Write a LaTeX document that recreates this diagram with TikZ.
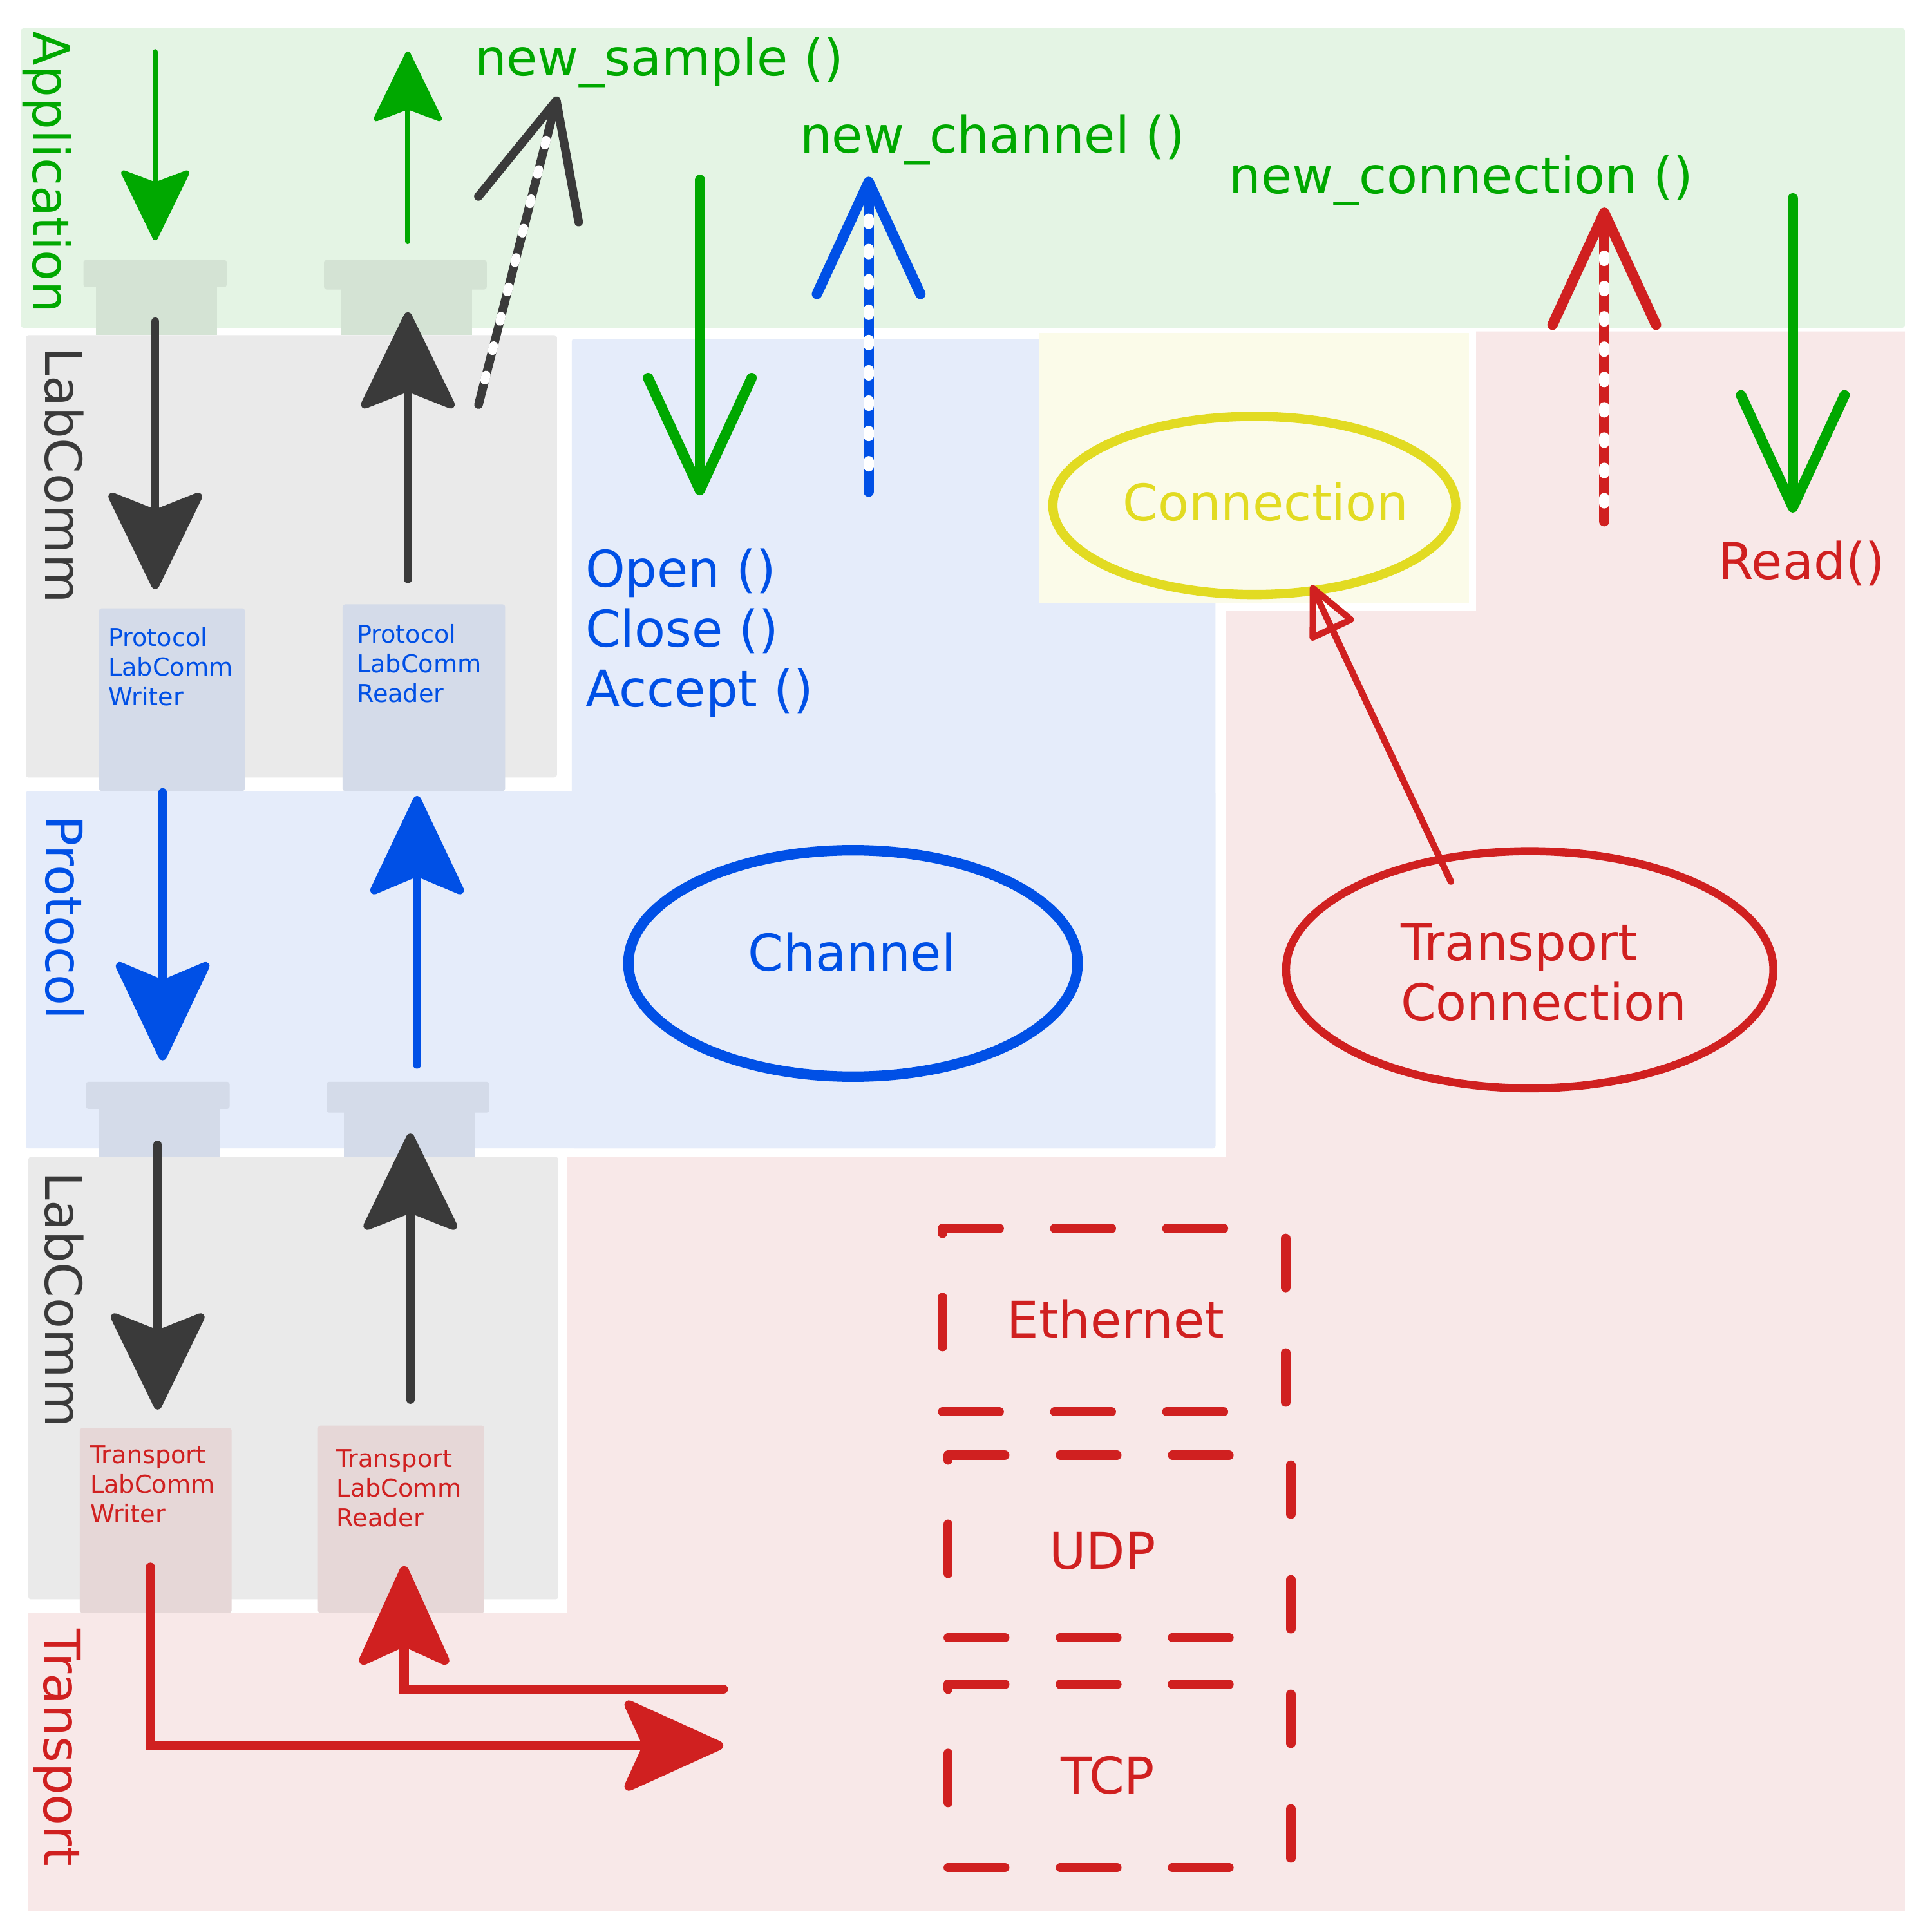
\documentclass[tikz,border=0pt]{standalone}
\usepackage{fontspec}
\setmainfont{DejaVu Sans}
\usetikzlibrary{arrows.meta, shapes.geometric}

\definecolor{appgreen}{HTML}{00A800}
\definecolor{appbg}{HTML}{E4F4E4}
\definecolor{lcgray}{HTML}{3A3A3A}
\definecolor{lcbg}{HTML}{EAEAEA}
\definecolor{protblue}{HTML}{0050E6}
\definecolor{protbg}{HTML}{E5ECFA}
\definecolor{trred}{HTML}{D02020}
\definecolor{trbg}{HTML}{F8E8E8}
\definecolor{connyellow}{HTML}{E2DB22}
\definecolor{connbg}{HTML}{FBFBE9}
\definecolor{stubgreen}{HTML}{D4E3D4}
\definecolor{stubblue}{HTML}{D4DBE9}
\definecolor{stubred}{HTML}{E6D7D7}

\begin{document}
\begin{tikzpicture}[x=1pt, y=-1pt,
    panel/.style={rounded corners=2pt},
    bigtext/.style={font=\fontsize{41}{48.5}\selectfont, inner sep=0pt, anchor=base west, align=left},
    smalltext/.style={font=\fontsize{20}{24}\selectfont, inner sep=0pt, anchor=base west, align=left},
    layerlabel/.style={bigtext, rotate=-90},
    gfill/.style={appgreen, line width=4.3pt, line cap=round, -{Stealth[round, length=61pt, width=59pt, inset=11pt]}},
    dfill/.style={lcgray, line width=6.7pt, line cap=round, -{Stealth[round, length=85pt, width=82pt, inset=16pt]}},
    bfill/.style={protblue, line width=6.7pt, line cap=round, -{Stealth[round, length=87pt, width=82pt, inset=17pt]}},
    rfill/.style={trred, line width=7.6pt, line cap=round, -{Stealth[round, length=89pt, width=80pt, inset=18pt]}},
    vhead/.style={line width=8.4pt, line cap=round, -{Straight Barb[round, length=91pt, width=84pt]}},
    whitedots/.style={white, line width=8.6pt, line cap=round, dash pattern=on 4pt off 20.6pt},
    netline/.style={trred, line width=7.5pt, line cap=round},
    usecase/.style={ellipse, inner sep=0pt, outer sep=0pt}]

    % page
    \fill[white] (0,0) rectangle (1568,1568);
    \useasboundingbox (0,0) rectangle (1568,1568);

    % layers
    \fill[appbg, panel] (17,23) rectangle (1546,266);
    \fill[lcbg, panel] (21,272) rectangle (452,631);
    \fill[protbg, panel] (464,275) rectangle (986.5,932);
    \fill[protbg, panel] (21,642) rectangle (986.5,932);
    \fill[connbg] (843,270) rectangle (1192,489);
    \fill[lcbg, panel] (23,939) rectangle (453,1298);
    \fill[trbg] (1198,269) -- (1546,269) -- (1546,1551) -- (23,1551) -- (23,1309)
        -- (460,1309) -- (460,939) -- (995,939) -- (995,495.5) -- (1198,495.5) -- cycle;

    % sockets and codec boxes
    \fill[stubgreen, panel] (67.7,211) rectangle (184,233);
    \fill[stubgreen] (78,232) rectangle (176,272);
    \fill[stubgreen, panel] (263,211) rectangle (395,235);
    \fill[stubgreen] (277,234) rectangle (383,272);
    \fill[stubblue, panel] (80.4,493.7) rectangle (198.7,642);
    \fill[stubblue, panel] (278,490.5) rectangle (410,642);
    \fill[stubblue, panel] (69.7,878) rectangle (186.4,900);
    \fill[stubblue] (80,899) rectangle (178,939);
    \fill[stubblue, panel] (265,878) rectangle (397,903);
    \fill[stubblue] (279,902) rectangle (385,939);
    \fill[stubred, panel] (64.8,1159) rectangle (188,1309);
    \fill[stubred, panel] (258,1157) rectangle (393,1309);

    % layer names
    \node[layerlabel, appgreen] (lapp) at (26.7,25) {Application};
    \node[layerlabel, lcgray] (llcup) at (36.6,281.7) {LabComm};
    \node[layerlabel, protblue] (lprot) at (37.6,662) {Protocol};
    \node[layerlabel, lcgray] (llclow) at (36.8,950.7) {LabComm};
    \node[layerlabel, trred] (ltrans) at (36,1322) {Transport};

    % codec names (anchored on the last line)
    \node[smalltext, protblue] (pwriter) at (87.7,572.5) {Protocol\\LabComm\\Writer};
    \node[smalltext, protblue] (preader) at (289.4,570) {Protocol\\LabComm\\Reader};
    \node[smalltext, trred] (twriter) at (73,1235.7) {Transport\\LabComm\\Writer};
    \node[smalltext, trred] (treader) at (273,1238.8) {Transport\\LabComm\\Reader};

    % objects
    \node[usecase, draw=connyellow, line width=7.5pt, minimum width=327pt, minimum height=144.6pt] (conn) at (1018,410.2) {};
    \node[usecase, draw=protblue, line width=8.5pt, minimum width=364.6pt, minimum height=183.8pt] (chan) at (692.3,781.9) {};
    \node[usecase, draw=trred, line width=6.5pt, minimum width=395.5pt, minimum height=192.5pt] (tconn) at (1241.5,787) {};
    \node[bigtext, connyellow] (connlbl) at (911,422.6) {Connection};
    \node[bigtext, protblue] (chanlbl) at (607,788) {Channel};
    \node[bigtext, trred] (tconnlbl) at (1136.7,828) {Transport\\Connection};

    % calls
    \node[bigtext, appgreen] (newsample) at (385,61.6) {new\_sample ()};
    \node[bigtext, appgreen] (newchannel) at (649,124) {new\_channel ()};
    \node[bigtext, appgreen] (newconn) at (997.5,157) {new\_connection ()};
    \node[bigtext, trred] (readcall) at (1394.7,470) {Read()};
    \node[bigtext, protblue] (chancalls) at (475,573.5) {Open ()\\Close ()\\Accept ()};

    % end points
    \coordinate (asnd) at (126,42);     \coordinate (asndE) at (126,195);
    \coordinate (arcv) at (331,196);    \coordinate (arcvE) at (331,41.7);
    \coordinate (lsnd) at (126,261);    \coordinate (lsndE) at (126,478);
    \coordinate (lrcv) at (331,470);    \coordinate (lrcvE) at (331,253.4);
    \coordinate (lnew) at (388.4,328.3); \coordinate (lnewE) at (452.4,78.3); \coordinate (lnewD) at (445,107);
    \coordinate (copen) at (568,146);   \coordinate (copenE) at (568,402);
    \coordinate (cnew) at (705,399);    \coordinate (cnewE) at (705,143.4); \coordinate (cnewD) at (705,174);
    \coordinate (tnew) at (1302,423);   \coordinate (tnewE) at (1302,168.4); \coordinate (tnewD) at (1302,198);
    \coordinate (tread) at (1455,161);  \coordinate (treadE) at (1455,416);
    \coordinate (psnd) at (132,643);    \coordinate (psndE) at (132,860.6);
    \coordinate (prcv) at (338.5,864);  \coordinate (prcvE) at (338.5,646);
    \coordinate (xsnd) at (128,929);    \coordinate (xsndE) at (128,1144);
    \coordinate (xrcv) at (333,1136);   \coordinate (xrcvE) at (333,920);
    \coordinate (wout) at (122,1272);   \coordinate (woutE) at (587,1416.7);
    \coordinate (rin) at (587,1371);    \coordinate (rinE) at (328,1271);

    % Application
    \draw[gfill] (asnd) -- (asndE);
    \draw[gfill] (arcv) -- (arcvE);

    % LabComm
    \draw[dfill] (lsnd) -- (lsndE);
    \draw[dfill] (lrcv) -- (lrcvE);
    \draw[lcgray, vhead, line width=7pt] (lnew) -- (lnewE);
    \draw[whitedots, line width=7.2pt, dash phase=4pt] (lnew) -- (lnewD);

    % Channel calls
    \draw[appgreen, vhead] (copen) -- (copenE);
    \draw[protblue, vhead] (cnew) -- (cnewE);
    \draw[whitedots, dash phase=4pt] (cnew) -- (cnewD);
    \draw[trred, vhead] (tnew) -- (tnewE);
    \draw[whitedots, dash phase=10pt] (tnew) -- (tnewD);
    \draw[appgreen, vhead] (tread) -- (treadE);

    % Protocol
    \draw[bfill] (psnd) -- (psndE);
    \draw[bfill] (prcv) -- (prcvE);

    % LabComm, transport side
    \draw[dfill] (xsnd) -- (xsndE);
    \draw[dfill] (xrcv) -- (xrcvE);

    % Transport
    \draw[rfill] (wout) |- (woutE);
    \draw[rfill] (rin) -| (rinE);

    % transport connection is a connection
    \draw[trred, line width=5.2pt, line cap=round, shorten <=-20pt, shorten >=-1pt] (tconn.129) -- (conn.-55);
    \draw[trred, line width=5.2pt, shorten <=-20pt, shorten >=-4.6pt,
        -{Triangle[open, round, length=45pt, width=41pt]}] (tconn.129) -- (conn.-55);

    % network stack
    \foreach \xl/\xr/\yt/\yb in {765/1043.5/997/1145.7, 769.5/1047.6/1181/1329, 769.5/1047.6/1367/1515.7} {
        \draw[netline, dash pattern=on 46pt off 45pt on 46pt off 45pt on 46pt off 200pt] (\xl,\yt) -- (\xr,\yt);
        \draw[netline, dash pattern=on 46pt off 45pt on 46pt off 45pt on 46pt off 200pt] (\xl,\yb) -- (\xr,\yb);
        \draw[netline, dash pattern=on 40pt off 53pt, dash phase=85pt] (\xr,\yt) -- (\xr,\yb);
        \draw[netline, dash pattern=on 4pt off 52pt on 40pt off 60pt] (\xl,\yt) -- (\xl,\yb);
    }
    \node[bigtext, trred] (eth) at (817,1085.7) {Ethernet};
    \node[bigtext, trred] (udp) at (851.5,1273.7) {UDP};
    \node[bigtext, trred] (tcp) at (861,1456) {TCP};
\end{tikzpicture}
\end{document}
